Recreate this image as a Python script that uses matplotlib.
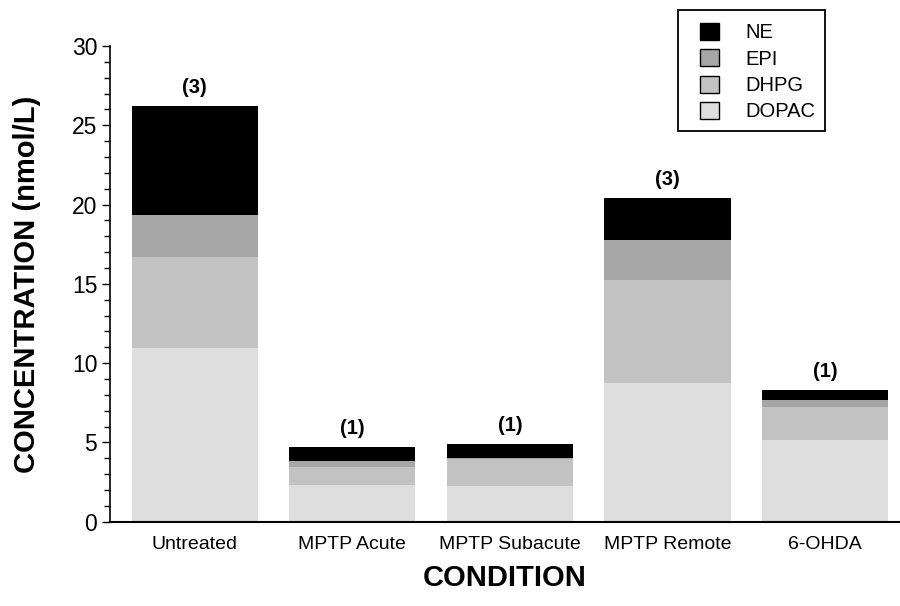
import numpy as np
import matplotlib.pyplot as plt
from matplotlib.patches import Patch, Rectangle
from matplotlib.ticker import MultipleLocator

# Data (nmol/L)
conditions = ['Untreated', 'MPTP Acute', 'MPTP Subacute', 'MPTP Remote', '6-OHDA']
dopac = [10.95, 2.3, 2.28, 8.75, 5.15]
dhpg = [5.75, 1.15, 1.70, 6.5, 2.1]
epi = [2.65, 0.38, 0.05, 2.5, 0.42]
ne = [6.85, 0.86, 0.87, 2.65, 0.63]
n_labels = ['(3)', '(1)', '(1)', '(3)', '(1)']

series = [('DOPAC', dopac, '#dedede'),
          ('DHPG', dhpg, '#c2c2c2'),
          ('EPI', epi, '#a6a6a6'),
          ('NE', ne, '#000000')]

plt.rcParams['font.family'] = ['Liberation Sans', 'DejaVu Sans']

W, H = 900, 606
fig = plt.figure(figsize=(W / 100, H / 100), dpi=100)
ax = fig.add_axes([0.122, 0.139, 0.877, 0.785])

x = np.arange(len(conditions))
bottom = np.zeros(len(conditions))
for name, vals, col in series:
    ax.bar(x, vals, width=0.8, bottom=bottom, color=col, edgecolor='none')
    bottom += np.array(vals)

for xi, tot, lab in zip(x, bottom, n_labels):
    ax.text(xi, tot + 0.6, lab, ha='center', va='bottom',
            fontsize=14.5, fontweight='bold')

ax.set_xlim(-0.54, 4.47)
ax.set_ylim(0, 30)
ax.yaxis.set_major_locator(MultipleLocator(5))
ax.yaxis.set_minor_locator(MultipleLocator(1))
ax.tick_params(axis='y', which='major', length=6, labelsize=16.5, width=1,
               pad=3)
ax.tick_params(axis='y', which='minor', length=4, width=1)
ax.tick_params(axis='x', length=0, labelsize=14, pad=10)
ax.set_xticks(x)
ax.set_xticklabels(conditions)
for s in ['top', 'right']:
    ax.spines[s].set_visible(False)
ax.spines['left'].set_linewidth(1.2)
ax.spines['bottom'].set_linewidth(1.5)

ax.set_ylabel('CONCENTRATION (nmol/L)', fontsize=21, fontweight='bold',
              labelpad=22)
ax.set_xlabel('CONDITION', fontsize=21, fontweight='bold', labelpad=8)

# Legend: entries without frame, box drawn separately
handles = [Patch(facecolor=col, edgecolor='black', label=name)
           for name, vals, col in reversed(series)]
leg = fig.legend(handles=handles, loc='upper left',
                 bbox_to_anchor=(688 / W, 1 - 11 / H), fontsize=14.5,
                 frameon=False, handlelength=0.95, handleheight=0.9,
                 borderpad=0.6, labelspacing=0.35, handletextpad=1.3,
                 borderaxespad=0)
fig.patches.append(Rectangle((678 / W, 1 - 131 / H), 147 / W, 121 / H,
                             transform=fig.transFigure, fill=False,
                             edgecolor='black', linewidth=1.3))

fig.savefig('out.png', dpi=100)
